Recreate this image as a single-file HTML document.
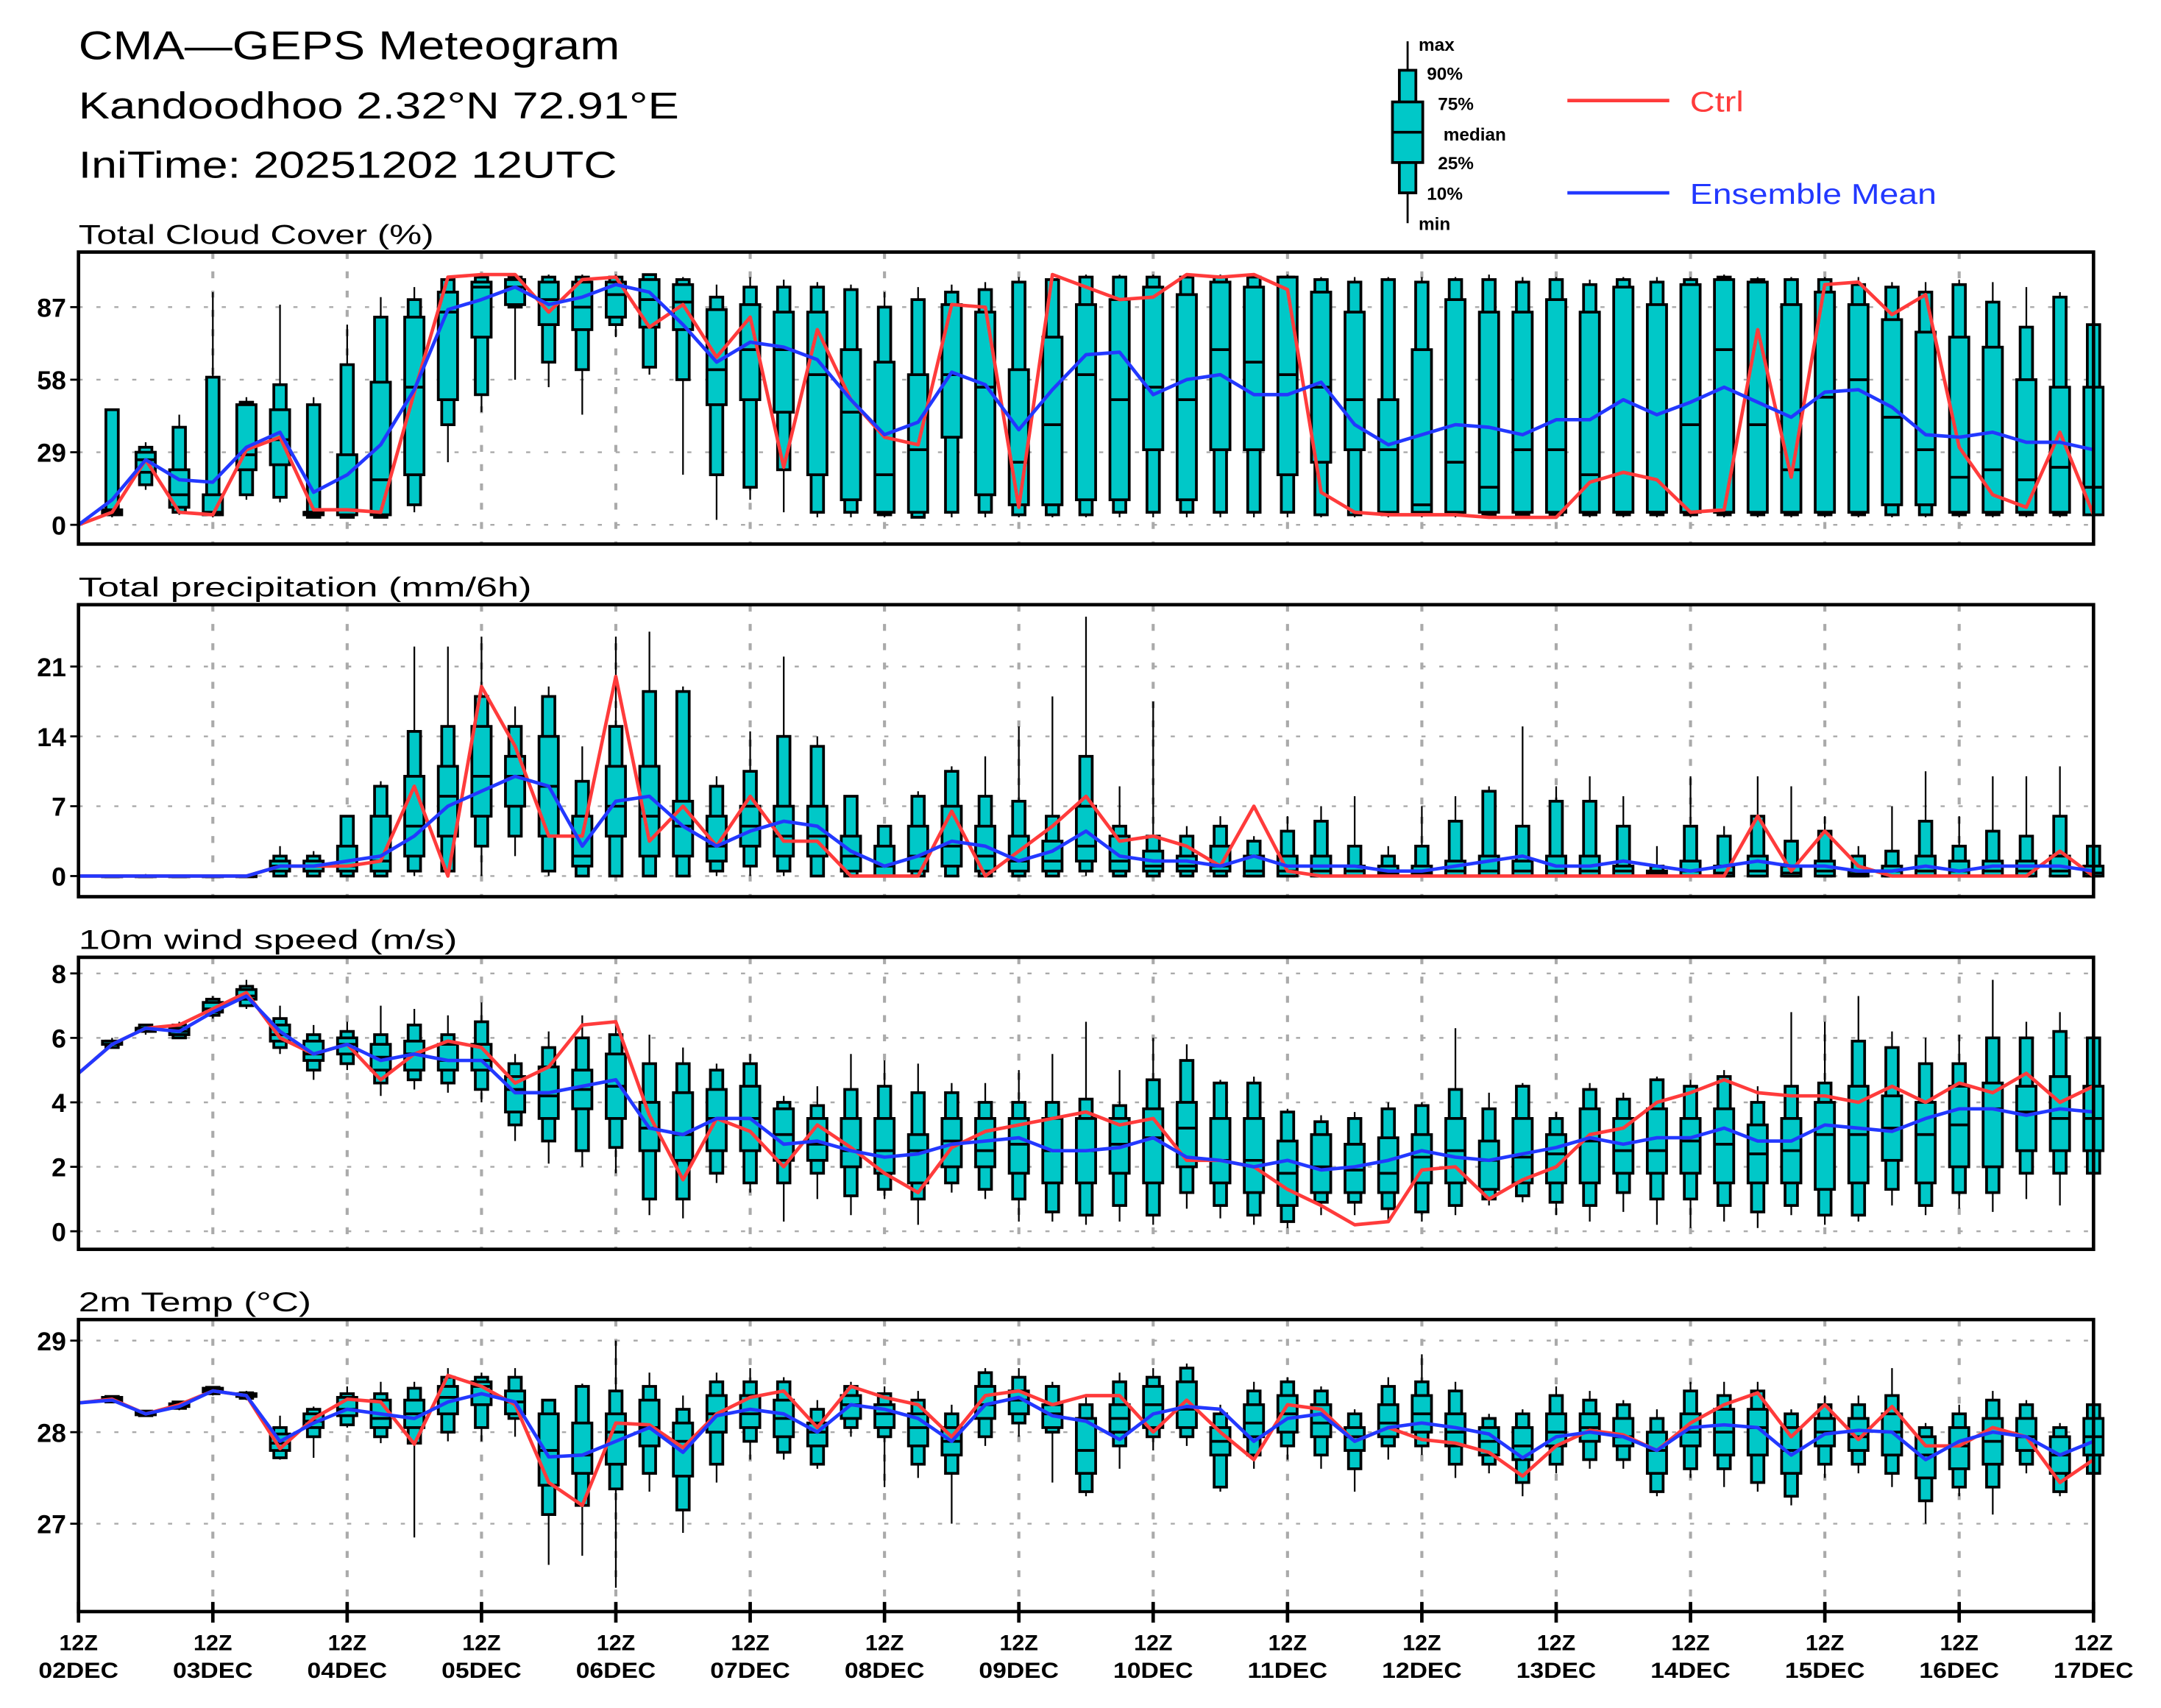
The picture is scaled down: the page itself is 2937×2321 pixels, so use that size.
<!DOCTYPE html>
<html><head><meta charset="utf-8"><title>CMA-GEPS Meteogram</title>
<style>html,body{margin:0;padding:0;background:#fff}svg{display:block}</style></head>
<body>
<svg id="chart" xmlns="http://www.w3.org/2000/svg" width="2937" height="2321" viewBox="0 0 1569 1240" preserveAspectRatio="none" font-family="Liberation Sans, DejaVu Sans, sans-serif">
<rect x="0" y="0" width="1569" height="1240" fill="#fff"/>
<text x="57" y="43" font-size="29" textLength="393" lengthAdjust="spacingAndGlyphs">CMA—GEPS Meteogram</text>
<text x="57" y="86" font-size="27" textLength="436" lengthAdjust="spacingAndGlyphs">Kandoodhoo 2.32°N 72.91°E</text>
<text x="57" y="129" font-size="27" textLength="391" lengthAdjust="spacingAndGlyphs">IniTime: 20251202 12UTC</text>
<g id="legend" font-weight="bold" font-size="13">
<line x1="1022" y1="30" x2="1022" y2="162" stroke="#000" stroke-width="1.5"/>
<rect x="1016" y="51" width="12" height="89" fill="#00c8c8" stroke="#000" stroke-width="2"/>
<rect x="1011" y="74" width="22" height="44" fill="#00c8c8" stroke="#000" stroke-width="2"/>
<line x1="1011" y1="96" x2="1033" y2="96" stroke="#000" stroke-width="2"/>
<text x="1030" y="37">max</text>
<text x="1036" y="58">90%</text>
<text x="1044" y="80">75%</text>
<text x="1048" y="102">median</text>
<text x="1044" y="123">25%</text>
<text x="1036" y="145">10%</text>
<text x="1030" y="167">min</text>
<line x1="1138" y1="73" x2="1212" y2="73" stroke="#ff3b3b" stroke-width="2.5"/>
<text x="1227" y="81" fill="#ff3b3b" font-size="21" font-weight="normal" textLength="39" lengthAdjust="spacingAndGlyphs">Ctrl</text>
<line x1="1138" y1="140" x2="1212" y2="140" stroke="#2238ff" stroke-width="2.5"/>
<text x="1227" y="148" fill="#2238ff" font-size="21" font-weight="normal" textLength="179" lengthAdjust="spacingAndGlyphs">Ensemble Mean</text>
</g>
</svg>
<script>
// ---------- DATA ----------
const dayLabels = ["02DEC","03DEC","04DEC","05DEC","06DEC","07DEC","08DEC","09DEC","10DEC","11DEC","12DEC","13DEC","14DEC","15DEC","16DEC","17DEC"];
const cloudTicks = [0,29,58,87];
const precipTicks = [0,7,14,21];
const windTicks = [0,2,4,6,8];
const tempTicks = [27,28,29];

const cloudCtrl = [0,5,26,5,4,30,35,6,6,5,53,99,100,100,85,98,99,79,88,67,83,23,78,50,35,32,88,87,7,100,95,90,91,100,99,100,94,13,5,4,4,4,3,3,3,17,21,18,5,6,78,19,96,97,84,92,31,12,7,37,4];
const cloudMean = [0,10,26,18,17,31,37,13,20,32,54,86,90,95,88,91,96,93,80,65,73,71,66,50,36,41,61,56,38,54,68,69,52,58,60,52,52,57,40,32,36,40,39,36,42,42,50,44,49,55,49,43,53,54,47,36,35,37,33,33,30];
const cloudBoxes = [
[3,4,4,5,6,46,46],[14,16,21,26,29,31,33],[4,5,7,12,22,39,44],[3,4,4,5,12,59,93],[10,12,22,28,48,49,51],
[9,11,24,34,46,56,88],[3,3,4,5,5,48,51],[3,3,4,6,28,64,80],[3,3,4,18,57,83,91],[5,8,20,55,83,90,95],
[25,40,50,85,93,98,99],[45,52,75,95,97,99,100],[58,87,88,95,98,99,100],[55,65,80,90,97,99,100],[44,62,78,87,97,99,100],
[75,80,83,92,97,99,100],[60,63,79,90,98,100,100],[20,58,78,89,96,98,99],[2,20,48,62,86,91,96],[10,15,50,70,88,95,99],
[5,22,45,70,85,95,98],[3,5,20,60,85,95,97],[3,5,10,45,70,94,96],[3,4,5,20,65,87,93],[3,3,5,30,60,90,95],
[3,5,35,60,88,93,96],[3,5,12,55,85,94,97],[3,4,8,25,62,97,99],[3,4,8,40,75,98,99],[3,4,10,60,88,99,100],
[3,5,10,50,90,99,100],[3,5,30,55,95,99,100],[3,5,10,50,92,99,100],[3,5,30,70,97,99,100],[3,5,30,65,95,99,100],
[3,5,20,60,99,99,100],[3,4,25,55,93,98,99],[3,4,30,50,85,97,99],[3,4,5,30,50,98,99],[3,4,5,8,70,97,99],
[3,4,5,25,90,98,99],[3,4,5,15,85,98,100],[3,4,5,30,85,97,99],[3,4,5,30,90,98,99],[3,4,5,20,85,96,98],
[3,4,5,5,95,98,99],[3,4,5,5,88,97,99],[3,4,5,40,96,98,99],[3,4,5,70,98,99,100],[3,4,5,40,97,98,99],
[3,4,5,22,88,98,99],[3,4,5,51,93,98,99],[3,4,5,58,88,96,99],[3,4,8,43,82,95,97],[3,4,8,30,77,93,97],
[3,4,5,19,75,96,98],[3,4,5,22,71,89,97],[3,4,5,18,58,79,95],[3,4,5,23,55,91,93],[3,4,4,15,55,80,85]];

const precipCtrl = [0,0,0,0,0,0,1,1,1,1.5,9,0,19,13,4,4,20,3.5,7,3,8,3.5,3.5,0,0,0,6.5,0,2.5,5,8,3.5,4,3,1,7,0.5,0,0,0,0,0,0,0,0,0,0,0,0,0,6,0.5,4.5,1,0,0,0,0,0,2.5,0];
const precipMean = [0,0,0,0,0,0,1,1,1.5,2,4,7,8.5,10,9,3,7.5,8,5,3,4.5,5.5,5,2.5,1,2,3.5,3,1.5,2.5,4.5,2,1.5,1.5,1,2,1,1,1,0.5,0.5,1,1.5,2,1,1,1.5,1,0.5,1,1.5,1,1,0.5,0.5,1,0.5,1,1,1,0.5];
const precipBoxes = [
[0,0,0,0,0,0,0],[0,0,0,0,0,0,0.2],[0,0,0,0,0,0,0],[0,0,0,0,0,0,0],[0,0,0,0,0,0,0],
[0,0,0.5,1,1.5,2,3],[0,0,0.5,1,1.5,2,2.5],[0,0,0.5,1,3,6,6],[0,0,0.5,1.5,6,9,9.5],[0,0.5,2,5,10,14.5,23],
[0,0.5,4,8,11,15,23],[0,3,6,10,15,18,24],[2,4,7,10,12,15,17],[0,0.5,4,9,14,18,19],[0,0,1,2,6,9.5,13],
[0,0,4,7,11,15,24],[0,0,2,6,11,18.5,24.5],[0,0,2,5,7.5,18.5,19],[0,0.5,1.5,3,6,9,10],[0,1,3,5,7,10.5,14.5],
[0,0.5,2,4,7,14,22],[0,0,2,4,7,13,14],[0,0,0.5,2,4,8,8],[0,0,0,1,3,5,5],[0,0,0.5,2,5,8,8.5],
[0,0,1,3,7,10.5,11],[0,0,0.5,2,5,8,12],[0,0,0.5,1.5,4,7.5,15],[0,0,0.5,1.5,3.5,6,18],[0,0.5,1.5,3,7,12,26],
[0,0,0.5,1.5,4,5,9],[0,0,0.5,1,2.5,4,17.5],[0,0,0.5,1,2,4,5],[0,0,0.5,1,3,5,6],[0,0,0,0.5,2,3.5,4],
[0,0,0,0.5,2,4.5,6],[0,0,0,0.5,2,5.5,7],[0,0,0,0.5,1,3,8],[0,0,0,0.3,1,2,3],[0,0,0,0.3,1,3,7],
[0,0,0,0.5,1.5,5.5,8],[0,0,0,0.5,2,8.5,9],[0,0,0,0.5,1.5,5,15],[0,0,0,0.5,2,7.5,9],[0,0,0,0.5,2,7.5,10],
[0,0,0,0.5,1,5,8],[0,0,0,0.3,0.5,1,3],[0,0,0,0.5,1.5,5,10],[0,0,0,0.3,1,4,5],[0,0,0,0.5,2,6,10],
[0,0,0,0.3,1,3.5,9],[0,0,0,0.5,1.5,4.5,6],[0,0,0,0.2,0.5,2,3],[0,0,0,0.5,1,2.5,7],[0,0,0,0.5,2,5.5,10.5],
[0,0,0,0.5,1.5,3,6],[0,0,0,0.5,1.5,4.5,10],[0,0,0,0.5,1.5,4,10],[0,0,0,0.5,2,6,11],[0,0,0,0.3,1,3,4]];

const windCtrl = [4.9,5.8,6.3,6.4,6.9,7.4,6.0,5.5,5.8,4.7,5.5,5.9,5.7,4.6,5.1,6.4,6.5,3.6,1.6,3.5,3.1,2.0,3.3,2.6,1.8,1.2,2.6,3.1,3.3,3.5,3.7,3.3,3.5,2.2,2.2,2.0,1.3,0.8,0.2,0.3,1.9,2.0,1.0,1.6,2.0,3.0,3.2,4.0,4.3,4.7,4.3,4.2,4.2,4.0,4.5,4.0,4.6,4.3,4.9,4.0,4.5];
const windMean = [4.9,5.8,6.3,6.2,6.8,7.3,6.2,5.5,5.8,5.3,5.5,5.3,5.3,4.3,4.3,4.5,4.7,3.2,3.0,3.5,3.5,2.7,2.8,2.5,2.3,2.4,2.7,2.8,2.9,2.5,2.5,2.6,2.9,2.3,2.2,2.0,2.2,1.9,2.0,2.2,2.5,2.3,2.2,2.4,2.6,2.9,2.7,2.9,2.9,3.2,2.8,2.8,3.3,3.2,3.1,3.5,3.8,3.8,3.6,3.8,3.7];
const windBoxes = [
[5.7,5.7,5.8,5.8,5.9,5.9,6.0],[6.1,6.2,6.2,6.3,6.3,6.4,6.4],[6.0,6.0,6.1,6.2,6.3,6.4,6.5],[6.6,6.7,6.8,6.9,7.1,7.2,7.3],[6.9,7.0,7.2,7.3,7.5,7.6,7.8],
[5.5,5.7,5.9,6.1,6.4,6.6,7.0],[4.7,5.0,5.3,5.5,5.9,6.1,6.4],[5.0,5.2,5.5,5.8,6.0,6.2,6.5],[4.2,4.6,5.0,5.4,5.8,6.1,7.0],[4.4,4.7,5.0,5.5,5.9,6.4,6.9],
[4.3,4.6,5.0,5.3,5.8,6.1,6.7],[4.0,4.4,5.0,5.3,5.8,6.5,7.1],[2.8,3.3,3.7,4.4,4.8,5.2,5.5],[2.1,2.8,3.5,4.2,5.1,5.7,6.2],[2.0,2.5,3.8,4.4,5.0,6.0,6.7],
[1.8,2.6,3.5,4.5,5.5,6.1,6.5],[0.5,1.0,2.5,3.2,4.0,5.2,6.1],[0.4,1.0,2.2,3.0,4.3,5.2,5.7],[1.5,1.8,2.5,3.5,4.4,5.0,5.2],[1.2,1.5,2.5,3.5,4.5,5.2,5.5],
[0.3,1.5,2.2,3.0,3.8,4.0,4.2],[1.0,1.8,2.2,2.7,3.5,3.9,4.5],[0.5,1.1,2.0,2.5,3.5,4.4,5.5],[1.0,1.3,1.8,2.5,3.5,4.5,5.3],[0.2,1.0,1.5,2.5,3.0,4.3,5.2],
[1.2,1.5,2.0,2.8,3.5,4.3,4.6],[1.0,1.3,2.0,2.5,3.5,4.0,4.6],[0.3,1.0,1.8,2.7,3.5,4.0,5.0],[0.3,0.6,1.5,2.5,3.5,4.0,5.5],[0.2,0.5,1.5,2.5,3.5,4.1,6.5],
[0.3,0.8,1.8,2.7,3.5,3.9,5.0],[0.2,0.5,1.5,2.9,3.8,4.7,6.0],[0.7,1.2,2.0,3.2,4.0,5.3,5.8],[0.4,0.8,1.5,2.2,3.5,4.6,4.7],[0.2,0.5,1.2,2.2,3.5,4.6,4.8],
[0.1,0.3,0.8,1.8,2.8,3.7,3.8],[0.5,0.9,1.2,2.0,3.0,3.4,3.6],[0.5,0.9,1.2,1.9,2.7,3.5,3.7],[0.3,0.7,1.2,1.8,2.9,3.8,4.0],[0.3,0.6,1.5,2.3,3.0,3.9,4.0],
[0.5,0.8,1.5,2.5,3.5,4.4,6.3],[0.8,1.0,1.3,2.2,2.8,3.8,4.3],[0.9,1.1,1.5,2.3,3.5,4.5,4.6],[0.5,0.9,1.5,2.4,3.0,3.5,3.7],[0.3,0.8,1.5,2.8,3.8,4.4,4.6],
[0.6,1.2,1.8,2.5,3.5,4.1,4.3],[0.2,1.0,1.8,2.5,3.8,4.7,4.8],[0.1,1.0,1.8,2.8,3.5,4.5,4.7],[0.3,0.8,1.5,2.7,3.8,4.8,5.0],[0.1,0.6,1.5,2.4,3.3,4.0,4.5],
[0.5,0.8,1.5,2.5,3.5,4.5,6.8],[0.2,0.5,1.3,3.0,4.0,4.6,6.5],[0.3,0.5,1.5,3.0,4.5,5.9,7.3],[0.8,1.3,2.2,3.2,4.2,5.7,6.2],[0.5,0.8,1.5,3.0,4.0,5.2,6.0],
[0.7,1.2,2.0,3.3,4.5,5.2,6.1],[0.6,1.2,2.0,3.8,4.6,6.0,7.8],[1.0,1.8,2.5,3.7,4.5,6.0,6.5],[0.8,1.8,2.5,3.5,4.8,6.2,6.8],[1.5,1.8,2.5,3.5,4.5,6.0,6.0]];

const tempCtrl = [28.32,28.36,28.2,28.3,28.45,28.4,27.82,28.15,28.36,28.33,27.87,28.62,28.5,28.3,27.45,27.2,28.1,28.08,27.83,28.2,28.38,28.45,28.05,28.5,28.38,28.3,27.95,28.4,28.45,28.3,28.4,28.4,28.0,28.35,28.0,27.7,28.3,28.25,27.9,28.05,27.92,27.88,27.78,27.52,27.85,28.02,27.97,27.8,28.1,28.3,28.43,27.95,28.3,27.92,28.28,27.85,27.85,28.05,27.95,27.45,27.7];
const tempMean = [28.32,28.35,28.2,28.28,28.45,28.4,27.9,28.1,28.25,28.2,28.15,28.33,28.42,28.33,27.73,27.75,27.9,28.05,27.78,28.18,28.25,28.2,28.0,28.3,28.25,28.15,27.9,28.3,28.38,28.18,28.12,27.92,28.2,28.28,28.25,27.9,28.15,28.2,27.9,28.05,28.1,28.05,27.98,27.72,27.95,28.0,27.95,27.8,28.05,28.08,28.05,27.75,27.98,28.02,28.0,27.7,27.9,28.0,27.95,27.75,27.9];
const tempBoxes = [
[28.32,28.33,28.34,28.36,28.38,28.39,28.4],[28.17,28.18,28.19,28.2,28.22,28.23,28.24],[28.24,28.26,28.28,28.3,28.31,28.33,28.34],[28.4,28.42,28.44,28.46,28.48,28.49,28.5],[28.35,28.37,28.39,28.4,28.42,28.43,28.45],
[27.7,27.72,27.8,27.88,27.98,28.05,28.18],[27.72,27.95,28.05,28.12,28.2,28.25,28.28],[28.05,28.08,28.18,28.25,28.38,28.42,28.5],[27.88,27.95,28.05,28.15,28.35,28.42,28.55],[26.85,27.88,28.05,28.2,28.35,28.48,28.55],
[27.9,28.0,28.2,28.38,28.5,28.6,28.7],[27.9,28.05,28.3,28.5,28.55,28.6,28.65],[27.95,28.15,28.2,28.33,28.45,28.6,28.7],[26.55,27.1,27.42,27.8,28.2,28.35,28.35],[26.65,27.2,27.55,27.75,28.1,28.5,28.53],
[26.3,27.38,27.65,28.0,28.2,28.45,29.0],[27.35,27.55,27.85,28.05,28.35,28.5,28.65],[26.9,27.15,27.52,27.9,28.1,28.25,28.4],[27.45,27.65,28.0,28.2,28.4,28.55,28.65],[27.7,27.9,28.05,28.2,28.4,28.55,28.7],
[27.7,27.78,27.95,28.15,28.35,28.55,28.6],[27.6,27.65,27.85,28.0,28.1,28.25,28.35],[27.95,28.05,28.15,28.3,28.4,28.5,28.55],[27.4,27.95,28.05,28.2,28.3,28.42,28.5],[27.5,27.65,27.85,28.05,28.2,28.35,28.45],
[27.0,27.55,27.75,27.9,28.05,28.2,28.3],[27.85,27.95,28.15,28.3,28.5,28.65,28.7],[27.95,28.1,28.2,28.35,28.45,28.6,28.7],[27.45,28.0,28.05,28.2,28.3,28.5,28.55],[27.3,27.35,27.55,27.8,28.15,28.3,28.4],
[27.6,27.85,28.0,28.15,28.3,28.55,28.65],[27.8,27.95,28.05,28.3,28.5,28.6,28.7],[27.85,27.95,28.05,28.25,28.55,28.7,28.75],[27.35,27.4,27.75,27.9,28.05,28.2,28.3],[27.6,27.75,27.95,28.1,28.3,28.45,28.55],
[27.7,27.85,28.0,28.2,28.4,28.55,28.6],[27.6,27.75,27.95,28.1,28.3,28.45,28.5],[27.35,27.6,27.8,27.95,28.05,28.2,28.25],[27.7,27.85,27.95,28.1,28.3,28.5,28.6],[27.75,27.85,28.0,28.2,28.4,28.55,28.85],
[27.5,27.65,27.85,28.0,28.2,28.45,28.55],[27.55,27.65,27.75,27.9,28.05,28.15,28.2],[27.3,27.45,27.7,27.85,28.05,28.2,28.25],[27.55,27.65,27.85,28.0,28.2,28.4,28.5],[27.6,27.7,27.9,28.05,28.2,28.35,28.45],
[27.6,27.7,27.85,27.95,28.15,28.3,28.35],[27.3,27.35,27.55,27.8,28.0,28.15,28.25],[27.5,27.6,27.85,28.0,28.2,28.45,28.55],[27.4,27.6,27.75,28.0,28.25,28.4,28.55],[27.35,27.45,27.75,28.05,28.25,28.45,28.55],
[27.2,27.3,27.55,27.8,28.05,28.2,28.25],[27.5,27.65,27.85,28.0,28.15,28.3,28.4],[27.55,27.65,27.8,27.95,28.15,28.3,28.4],[27.4,27.55,27.75,28.0,28.2,28.4,28.7],[27.0,27.25,27.5,27.75,27.95,28.05,28.1],
[27.3,27.4,27.6,27.85,28.05,28.2,28.3],[27.1,27.4,27.65,27.9,28.15,28.35,28.45],[27.55,27.65,27.8,27.95,28.15,28.3,28.35],[27.3,27.35,27.55,27.75,27.95,28.05,28.1],[27.2,27.55,27.75,27.95,28.15,28.3,28.4]];

// ---------- RENDER ----------
const NS = "http://www.w3.org/2000/svg";
const svg = document.getElementById('chart');
const X0 = 57, X1 = 1520, NSTEP = 60;
function xs(i){ return X0 + (X1 - X0) * i / NSTEP; }
function mk(tag, attrs, parent){
  const e = document.createElementNS(NS, tag);
  for (const k in attrs) e.setAttribute(k, attrs[k]);
  (parent || svg).appendChild(e);
  return e;
}
const panels = [
  {key:'cloud', title:'Total Cloud Cover (%)', tw:258, top:183, bottom:395, vmin:-7.7, vmax:109.0, ticks:cloudTicks, boxes:cloudBoxes, ctrl:cloudCtrl, mean:cloudMean},
  {key:'precip', title:'Total precipitation (mm/6h)', tw:329, top:439, bottom:651, vmin:-2.07, vmax:27.2, ticks:precipTicks, boxes:precipBoxes, ctrl:precipCtrl, mean:precipMean},
  {key:'wind', title:'10m wind speed (m/s)', tw:275, top:695, bottom:907, vmin:-0.56, vmax:8.5, ticks:windTicks, boxes:windBoxes, ctrl:windCtrl, mean:windMean},
  {key:'temp', title:'2m Temp (°C)', tw:169, top:958, bottom:1170, vmin:26.04, vmax:29.23, ticks:tempTicks, boxes:tempBoxes, ctrl:tempCtrl, mean:tempMean}
];
panels.forEach(function(p, pi){
  const ys = function(v){ return p.bottom - (v - p.vmin) / (p.vmax - p.vmin) * (p.bottom - p.top); };
  const g = mk('g', {}, svg);
  
  
  const t = mk('text', {x:57, y:p.top - 6, 'font-size':20, textLength:p.tw, lengthAdjust:'spacingAndGlyphs'}, g);
  t.textContent = p.title;
  
  
  for (let d = 1; d < 15; d++){
    const gl = mk('line', {x1:xs(d*4), x2:xs(d*4), y1:p.top, y2:p.bottom, stroke:'#aaa', 'stroke-width':2.2, 'stroke-dasharray':'5,9'}, g);
    
    
  }
  p.ticks.forEach(function(tv){
    const y = ys(tv);
    const hl = mk('line', {x1:X0, x2:X1, y1:y, y2:y, stroke:'#aaa', 'stroke-width':1.3, 'stroke-dasharray':'3,10'}, g);
    
    
    const tk = mk('line', {x1:X0 - 6, x2:X0, y1:y, y2:y, stroke:'#000', 'stroke-width':1.5}, g);
    
    
    const tl = mk('text', {x:X0 - 9, y:y + 7, 'font-size':19, 'font-weight':'bold', 'text-anchor':'end'}, g);
    tl.textContent = String(tv);
    
    
  });
  const clip = mk('clipPath', {id:'clip' + pi}, g);
  mk('rect', {x:X0, y:p.top, width:X1 - X0 + 8, height:p.bottom - p.top}, clip);
  const bg = mk('g', {'clip-path':'url(#clip' + pi + ')'}, g);
  
  
  p.boxes.forEach(function(b, i){
    const x = xs(i + 1);
    const w = mk('line', {x1:x, x2:x, y1:ys(b[0]), y2:ys(b[6]), stroke:'#000', 'stroke-width':1.2}, bg);
    
    
    const o = mk('rect', {x:x - 4.5, y:ys(b[5]), width:9, height:Math.max(0.5, ys(b[1]) - ys(b[5])), fill:'#00c8c8', stroke:'#000', 'stroke-width':2}, bg);
    
    
    const r = mk('rect', {x:x - 7, y:ys(b[4]), width:14, height:Math.max(0.5, ys(b[2]) - ys(b[4])), fill:'#00c8c8', stroke:'#000', 'stroke-width':2}, bg);
    
    
    const m = mk('line', {x1:x - 7, x2:x + 7, y1:ys(b[3]), y2:ys(b[3]), stroke:'#000', 'stroke-width':2}, bg);
    
    
  });
  const ptsC = p.ctrl.map(function(v, i){ return xs(i).toFixed(1) + ',' + ys(v).toFixed(1); }).join(' ');
  const lc = mk('polyline', {points:ptsC, fill:'none', stroke:'#ff3b3b', 'stroke-width':2.5, 'stroke-linejoin':'round'}, bg);
  
  
  const ptsM = p.mean.map(function(v, i){ return xs(i).toFixed(1) + ',' + ys(v).toFixed(1); }).join(' ');
  const lm = mk('polyline', {points:ptsM, fill:'none', stroke:'#2238ff', 'stroke-width':2.5, 'stroke-linejoin':'round'}, bg);
  
  
  const fr = mk('rect', {x:X0, y:p.top, width:X1 - X0, height:p.bottom - p.top, fill:'none', stroke:'#000', 'stroke-width':2.5}, g);
  
  
});
const ax = mk('g', {}, svg);


dayLabels.forEach(function(lbl, d){
  const x = xs(d * 4);
  const tk = mk('line', {x1:x, x2:x, y1:1163, y2:1178, stroke:'#000', 'stroke-width':2.5}, ax);
  
  
  const t1 = mk('text', {x:x - 14, y:1198, 'font-size':16, 'font-weight':'bold', textLength:28, lengthAdjust:'spacingAndGlyphs'}, ax);
  t1.textContent = '12Z';
  
  
  const t2 = mk('text', {x:x - 29, y:1218, 'font-size':16, 'font-weight':'bold', textLength:58, lengthAdjust:'spacingAndGlyphs'}, ax);
  t2.textContent = lbl;
  
  
});
</script>
</body></html>
